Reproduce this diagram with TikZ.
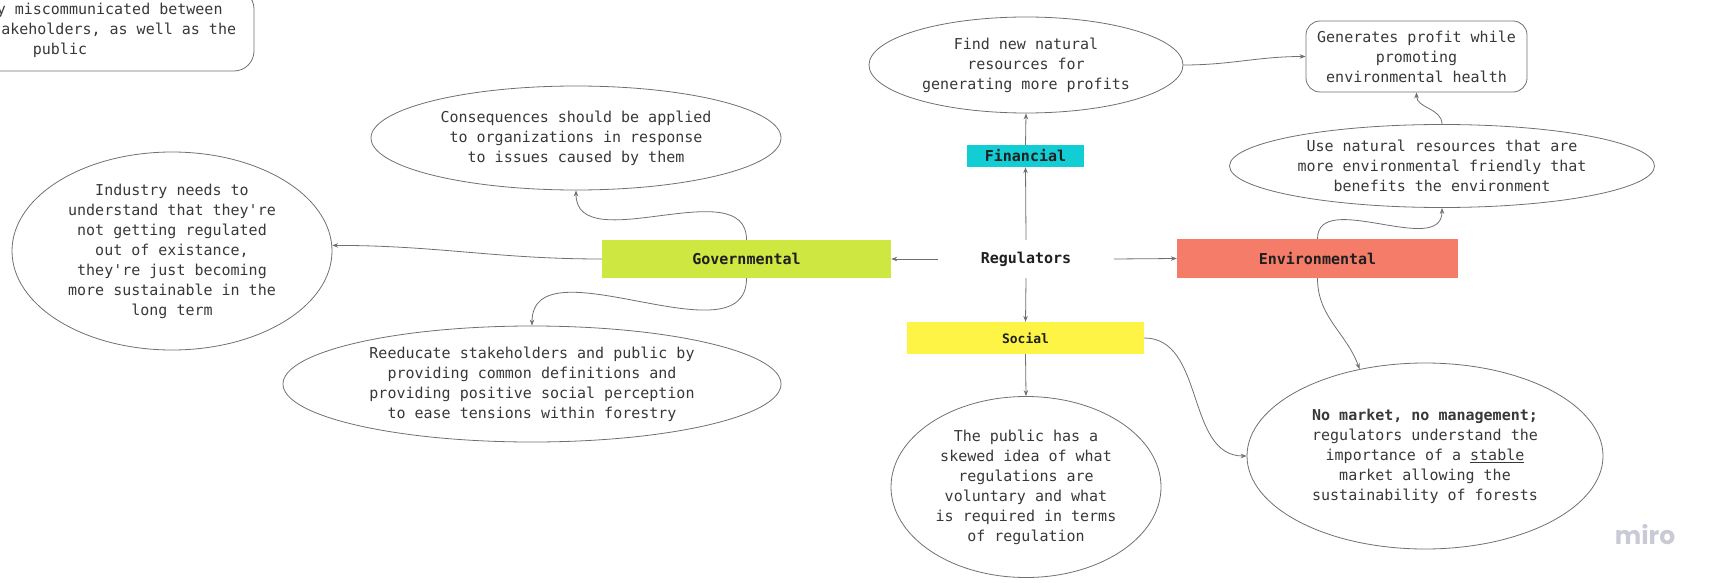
\documentclass[tikz,border=0pt]{standalone}
\usepackage{fontspec}
\setmonofont{DejaVu Sans Mono}
\newfontfamily\logofont{Poppins}
\usetikzlibrary{shapes.geometric,arrows.meta}

\definecolor{govgreen}{HTML}{CEE741}
\definecolor{fincyan}{HTML}{12CDD4}
\definecolor{envred}{HTML}{F47C69}
\definecolor{socyellow}{HTML}{FEF445}
\definecolor{linegray}{HTML}{707070}
\definecolor{textgray}{HTML}{383838}
\definecolor{logogray}{HTML}{CACAD6}

\tikzset{
  bubble/.style={ellipse,draw=linegray,line width=0.8pt,inner sep=0pt,align=center,
    text=textgray,font=\ttfamily\fontsize{15}{20}\selectfont},
  notebox/.style={rectangle,rounded corners=14pt,draw=linegray,line width=0.8pt,inner sep=0pt,
    align=center,text=textgray,font=\ttfamily\fontsize{15}{20}\selectfont},
  topic/.style={rectangle,inner sep=0pt,text=black!88,font=\ttfamily\bfseries\fontsize{15}{20}\selectfont}
}

\begin{document}
\begin{tikzpicture}[x=1pt,y=-1pt,>={Stealth[length=6pt,width=4.5pt]}]
    \useasboundingbox (0,0) rectangle (1712,583);
    \clip (0,0) rectangle (1712,583);
    % categories
    \begin{scope}[every node/.style={topic}]
      \node[minimum width=176,minimum height=38] (reg) at (1026,259) {Regulators};
      \node[fill=fincyan,minimum width=117,minimum height=22] (fin) at (1025.5,156) {Financial};
      \node[fill=govgreen,minimum width=289,minimum height=38] (gov) at (746.5,259) {Governmental};
      \node[fill=envred,minimum width=281,minimum height=39] (env) at (1317.5,258.5) {Environmental};
      \node[fill=socyellow,minimum width=237,minimum height=32,
        font=\ttfamily\bfseries\fontsize{13}{16}\selectfont] (soc) at (1025.5,338) {Social};
    \end{scope}
    % ideas
    \begin{scope}[every node/.style={bubble}]
      \node[minimum width=314,minimum height=96] (find) at (1026,65) {Find new natural\\resources for\\generating more profits};
      \node[minimum width=425,minimum height=83] (use) at (1442,166) {Use natural resources that are\\more environmental friendly that\\benefits the environment};
      \node[minimum width=410,minimum height=104] (cons) at (576,138) {Consequences should be applied\\to organizations in response\\to issues caused by them};
      \node[minimum width=320,minimum height=198] (ind) at (172,251) {Industry needs to\\understand that they're\\not getting regulated\\out of existance,\\they're just becoming\\more sustainable in the\\long term};
      \node[minimum width=498,minimum height=116] (ree) at (532,384) {Reeducate stakeholders and public by\\providing common definitions and\\providing positive social perception\\to ease tensions within forestry};
      \node[minimum width=270,minimum height=181] (pub) at (1026,487) {The public has a\\skewed idea of what\\regulations are\\voluntary and what\\is required in terms\\of regulation};
      \node[minimum width=356,minimum height=186] (nm) at (1425,456) {\textbf{No market, no management;}\\regulators understand the\\importance of a \underline{stable}\\market allowing the\\sustainability of forests};
    \end{scope}
    \begin{scope}[every node/.style={notebox}]
      \node[minimum width=221,minimum height=71] (gen) at (1416.5,56.5) {Generates profit while\\promoting\\environmental health};
      \node[rounded corners=20pt,minimum width=388,minimum height=82] (mis) at (60,30) {\hphantom{xxxxxxxxxxx}y miscommunicated between\\\hphantom{xxxxxxxxxxxxx}akeholders, as well as the\\public};
    \end{scope}
    \node[text=logogray,font=\logofont\bfseries\fontsize{25}{25}\selectfont] (logo) at (1645,535) {miro};
    % links
    \begin{scope}[every edge/.style={draw=linegray,line width=0.8pt}]
      \path (reg.north) edge[->] (fin.south);
      \path (reg.west) edge[->] (gov.east);
      \path (reg.east) edge[->] (env.west);
      \path (reg.south) edge[->] (soc.north);
      \path (fin.north) edge[->] (find.south);
      \path (soc.south) edge[->] (pub.north);
      \path (gov.north) edge[->,out=90,in=-90] (cons.south);
      \path (gov.south) edge[->,out=-90,in=90] (ree.north);
      \path (gov.west) edge[->,out=180,in=0] (ind.2);
      \path (find.east) edge[->,out=0,in=180] (gen.west);
      \path (env.north) edge[->,out=90,in=-90] (use.south);
      \path (use.north) edge[->,out=90,in=-90] (gen.south);
      \path (env.south) edge[->,out=-90,in=110] (nm.127);
      \path (soc.east) edge[->,out=0,in=180] (nm.west);
    \end{scope}
\end{tikzpicture}
\end{document}
